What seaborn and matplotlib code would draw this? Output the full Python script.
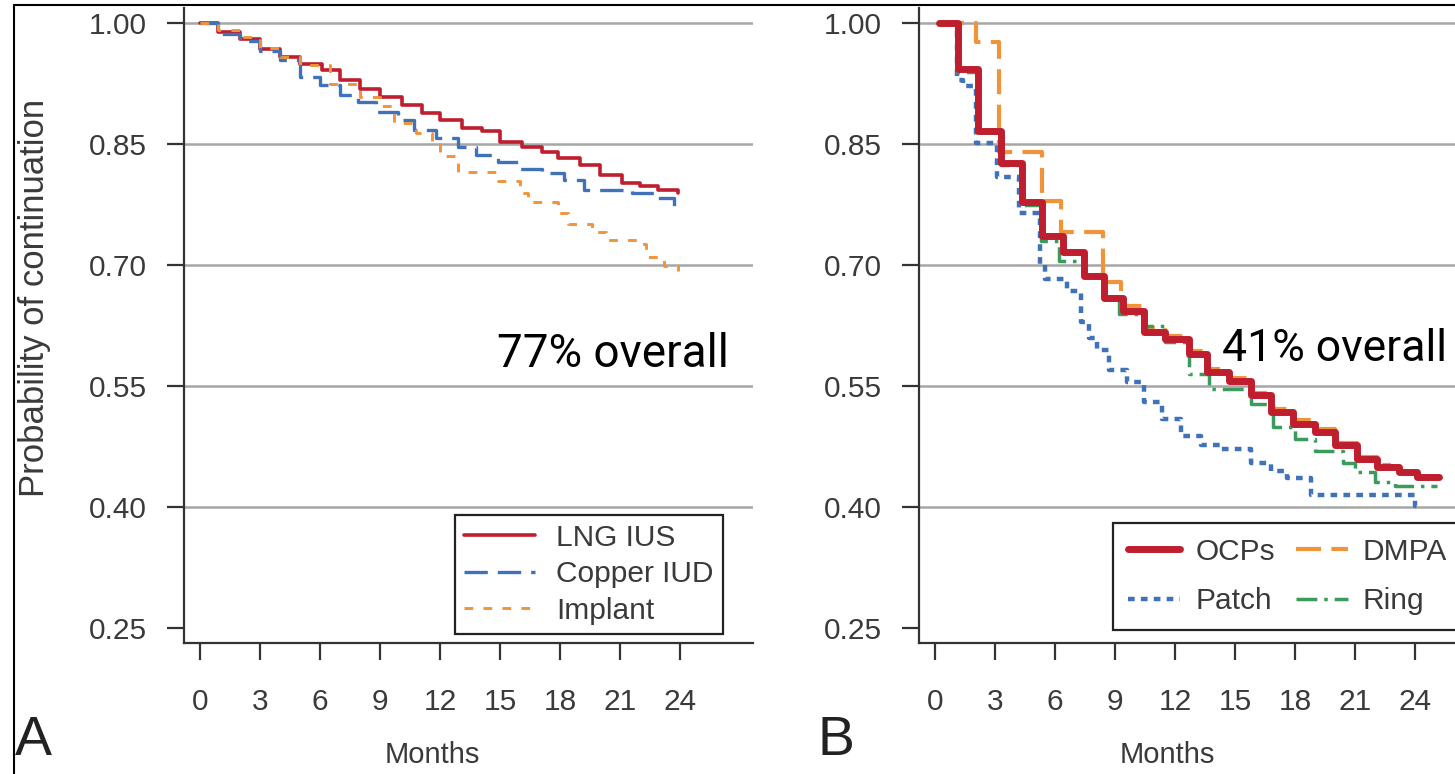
import matplotlib
matplotlib.use('Agg')
import matplotlib.pyplot as plt
from matplotlib.lines import Line2D
import seaborn as sns

# Panel A - long acting methods (Kaplan-Meier steps, month of drop -> probability)
lng_months = [0, 0.9, 2.0, 3.0, 4.0, 5.0, 6.1, 7.0, 8.0, 9.0, 10.1, 11.1, 12.0, 13.1, 14.1, 15.0,
              16.1, 17.1, 17.9, 19.0, 20.0, 21.1, 22.0, 22.9, 23.9]
lng_prob = [1.0, 0.989, 0.981, 0.968, 0.958, 0.950, 0.942, 0.930, 0.919, 0.909, 0.899, 0.889, 0.880,
            0.870, 0.866, 0.853, 0.847, 0.841, 0.833, 0.825, 0.812, 0.802, 0.798, 0.794, 0.790]

copper_months = [0, 0.9, 2.0, 3.0, 4.0, 5.0, 6.0, 7.0, 7.9, 8.8, 9.9, 10.7, 11.8, 12.9, 13.8, 14.9,
                 16.0, 17.1, 18.2, 19.2, 20.5, 21.6, 22.9, 23.7, 23.9]
copper_prob = [1.0, 0.987, 0.978, 0.966, 0.955, 0.934, 0.923, 0.911, 0.903, 0.890, 0.880, 0.868, 0.858,
               0.847, 0.837, 0.828, 0.819, 0.815, 0.806, 0.794, 0.793, 0.790, 0.784, 0.774, 0.774]

implant_months = [0, 0.9, 2.0, 3.0, 4.0, 5.0, 6.5, 8.0, 9.0, 9.7, 10.8, 11.6, 12.0, 12.9, 14.9, 16.0,
                  16.4, 17.9, 18.4, 19.6, 20.3, 22.1, 22.3, 23.2, 23.9]
implant_prob = [1.0, 0.992, 0.983, 0.970, 0.958, 0.948, 0.925, 0.909, 0.897, 0.876, 0.864, 0.852, 0.835,
                0.816, 0.804, 0.790, 0.779, 0.765, 0.751, 0.741, 0.732, 0.726, 0.711, 0.699, 0.693]

# Panel B - short acting methods
ocp_months = [0.2, 1.17, 2.14, 3.3, 4.36, 5.33, 6.4, 7.45, 8.43, 9.4, 10.46, 11.5, 12.7, 13.6, 14.7,
              15.8, 16.8, 17.9, 19.0, 20.0, 21.1, 22.1, 23.2, 24.1, 25.2]
ocp_prob = [1.0, 0.944, 0.866, 0.827, 0.779, 0.736, 0.716, 0.687, 0.660, 0.644, 0.617, 0.609, 0.590,
            0.568, 0.557, 0.539, 0.518, 0.504, 0.494, 0.477, 0.460, 0.450, 0.444, 0.438, 0.438]

dmpa_months = [0.2, 2.05, 3.2, 5.33, 6.3, 8.4, 9.3, 10.4, 11.5, 12.7, 13.6, 14.7, 15.8, 16.8, 17.9,
               19.0, 20.0, 21.1, 22.1, 22.8]
dmpa_prob = [1.0, 0.977, 0.840, 0.780, 0.741, 0.680, 0.650, 0.622, 0.612, 0.594, 0.572, 0.560, 0.542,
             0.522, 0.508, 0.497, 0.480, 0.463, 0.452, 0.452]

patch_months = [0.2, 1.08, 1.4, 2.06, 3.1, 4.18, 5.24, 5.5, 6.6, 7.28, 7.7, 8.1, 8.7, 9.6, 10.46,
                11.35, 12.3, 13.3, 14.3, 15.8, 16.8, 17.6, 18.8, 24.0, 24.2]
patch_prob = [1.0, 0.930, 0.922, 0.852, 0.810, 0.765, 0.700, 0.683, 0.668, 0.630, 0.610, 0.595, 0.570,
              0.555, 0.531, 0.510, 0.489, 0.478, 0.473, 0.455, 0.445, 0.436, 0.415, 0.402, 0.402]

ring_months = [0.2, 1.1, 2.1, 3.3, 4.3, 5.3, 6.2, 7.4, 8.4, 9.2, 10.4, 11.5, 12.7, 13.7, 15.8, 16.9,
               18.0, 19.0, 20.4, 21.0, 22.0, 23.0, 25.1]
ring_prob = [1.0, 0.940, 0.865, 0.825, 0.775, 0.730, 0.705, 0.685, 0.660, 0.640, 0.625, 0.605, 0.565,
             0.547, 0.528, 0.500, 0.485, 0.470, 0.455, 0.444, 0.432, 0.427, 0.427]

month_ticks = [0, 3, 6, 9, 12, 15, 18, 21, 24]
prob_ticks = [0.25, 0.40, 0.55, 0.70, 0.85, 1.00]
grid_levels = [0.40, 0.55, 0.70, 0.85, 1.00]

RED = '#bf1e2e'
BLUE = '#3f72b8'
ORANGE = '#f0943c'
GREEN = '#3b9a5c'
TEXT = '#3a3a3a'

sns.set_style('ticks')
plt.rcParams['font.family'] = ['Liberation Sans', 'DejaVu Sans']

W, H = 1455, 774
fig = plt.figure(figsize=(W / 100, H / 100), dpi=100)

ax_w, ax_h = 569 / W, 635 / H
ax_bottom = (H - 643) / H
ax_a = fig.add_axes([184 / W, ax_bottom, ax_w, ax_h])
ax_b = fig.add_axes([919 / W, ax_bottom, ax_w, ax_h])


def step(ax, months, prob, color, lw, ls, label):
    sns.lineplot(x=months, y=prob, ax=ax, color=color, linewidth=lw, linestyle=ls,
                 drawstyle='steps-post', sort=False, estimator=None, label=label, legend=False,
                 zorder=3)


def style_axes(ax):
    for level in grid_levels:
        ax.axhline(level, color='#a6a6a6', linewidth=1.8, zorder=1)
    ax.set_xlim(-0.8, 27.65)
    ax.set_ylim(0.232, 1.019)
    ax.set_xticks(month_ticks)
    ax.set_yticks(prob_ticks)
    ax.set_yticklabels(['%.2f' % p for p in prob_ticks])
    sns.despine(ax=ax)
    for side in ['left', 'bottom']:
        ax.spines[side].set_color('#333333')
        ax.spines[side].set_linewidth(1.6)
    ax.tick_params(axis='both', direction='out', length=12.5, width=1.6, color='#333333',
                   labelsize=21.5, labelcolor=TEXT)
    ax.tick_params(axis='y', pad=14)
    ax.tick_params(axis='x', pad=20)
    ax.set_xlabel('Months', fontsize=21, color=TEXT, va='center')
    ax.xaxis.set_label_coords(0.436, -0.177)


def finish_legend(leg):
    leg.get_frame().set_linewidth(1.6)
    for t in leg.get_texts():
        t.set_color(TEXT)


step(ax_a, lng_months, lng_prob, RED, 2.6, '-', 'LNG IUS')
step(ax_a, copper_months, copper_prob, BLUE, 2.4, (0, (7, 3)), 'Copper IUD')
step(ax_a, implant_months, implant_prob, ORANGE, 2.1, (0, (3, 3.5)), 'Implant')
style_axes(ax_a)
ax_a.set_ylabel('Probability of continuation', fontsize=25, color=TEXT, va='center')
ax_a.yaxis.set_label_coords(-0.262, 0.543)
leg_a = ax_a.legend(loc='upper left', bbox_to_anchor=(0.476, 0.2016), fontsize=21.5,
                    frameon=True, fancybox=False, framealpha=1, edgecolor='#222222',
                    handlelength=2.4, handletextpad=0.7, labelspacing=0.28, borderpad=0.3,
                    borderaxespad=0)
finish_legend(leg_a)
ax_a.text(20.65, 0.59, '77% overall', fontsize=33, family='Roboto', color='black',
          ha='center', va='center')

step(ax_b, ocp_months, ocp_prob, RED, 5.0, '-', 'OCPs')
step(ax_b, dmpa_months, dmpa_prob, ORANGE, 3.0, (0, (6, 2.5)), 'DMPA')
step(ax_b, patch_months, patch_prob, BLUE, 3.2, (0, (1.5, 1.4)), 'Patch')
step(ax_b, ring_months, ring_prob, GREEN, 2.5, (0, (6, 2, 1, 2)), 'Ring')
# OCPs sit on top of the other curves
ax_b.lines[0].set_zorder(4)
style_axes(ax_b)
handles, labels = ax_b.get_legend_handles_labels()
order = [labels.index(n) for n in ['OCPs', 'Patch', 'DMPA', 'Ring']]
leg_b = ax_b.legend([handles[i] for i in order], [labels[i] for i in order],
                    loc='upper left', bbox_to_anchor=(0.341, 0.189), ncol=2, fontsize=21.5,
                    frameon=True, fancybox=False, framealpha=1, edgecolor='#222222',
                    handlelength=1.75, handletextpad=0.5, labelspacing=0.72, borderpad=0.5,
                    columnspacing=0.7, borderaxespad=0)
finish_legend(leg_b)
ax_b.text(14.35, 0.596, '41% overall', fontsize=32, family='Roboto', color='black',
          ha='left', va='center')

# panel letters and outer frame
fig.text(15 / W, (H - 755) / H, 'A', fontsize=40, color='#222222', va='baseline')
fig.text(817 / W, (H - 755) / H, 'B', fontsize=40, color='#222222', va='baseline')
fig.add_artist(Line2D([14 / W, 14 / W], [0, 1 - 5 / H], color='black', linewidth=1.5))
fig.add_artist(Line2D([14 / W, 1], [1 - 5 / H, 1 - 5 / H], color='black', linewidth=1.5))

fig.savefig('out.png', dpi=100)
